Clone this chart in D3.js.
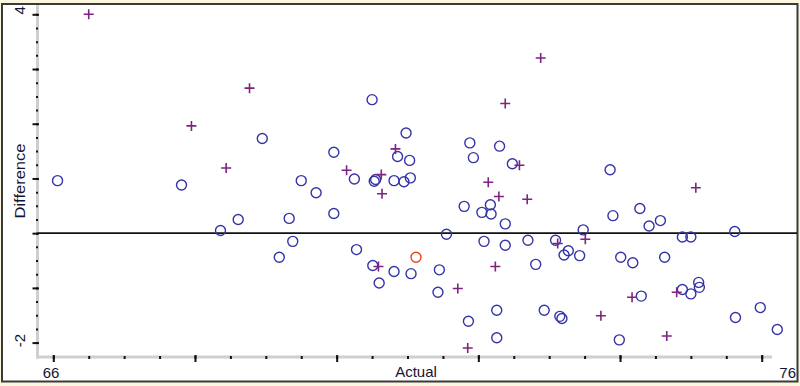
<!DOCTYPE html>
<html>
<head>
<meta charset="utf-8">
<script src="https://cdn.jsdelivr.net/npm/d3@7"></script>
<style>
  html, body { margin: 0; padding: 0; background: #fbf6de; }
  svg { display: block; }
  text { font-family: "Liberation Sans", Arial, sans-serif; font-size: 15px; fill: #141434; }
</style>
</head>
<body>
<svg id="chart" width="800" height="386"></svg>
<script>
// Blue circles: actual value and difference
const circleActual = [66.06, 67.81, 68.36, 68.61, 68.95, 69.19, 69.33, 69.38, 69.50, 69.71,
  69.96, 69.96, 70.28, 70.25, 70.50, 70.51, 70.53, 70.55, 70.60, 70.81,
  70.81, 70.86, 70.95, 70.98, 71.03, 71.04, 71.05, 71.45, 71.43, 71.55,
  71.88, 71.93, 72.30, 72.48, 71.80, 72.05, 72.17, 72.18, 72.38, 72.08,
  72.38, 72.70, 73.09, 72.81, 72.26, 71.86, 72.26, 72.93, 73.15, 73.18,
  73.86, 73.90, 74.28, 74.41, 74.57, 73.48, 73.27, 73.21, 73.43, 74.01,
  74.18, 74.63, 74.88, 75.00, 75.62, 74.30, 74.88, 75.00, 75.11, 75.12,
  73.99, 75.63, 75.98, 76.22];
const circleDiff = [0.96, 0.88, 0.05, 0.25, 1.73, -0.44, 0.27, -0.15, 0.96, 0.74,
  1.48, 0.36, -0.30, 0.99, 2.44, -0.59, 0.95, 0.98, -0.91, -0.70,
  0.96, 1.40, 0.94, 1.83, 1.33, 1.01, -0.74, -0.67, -1.08, -0.02,
  1.65, 1.38, 1.59, 1.27, 0.49, 0.38, 0.52, 0.35, 0.17, -0.15,
  -0.22, -0.13, -0.13, -0.57, -1.41, -1.61, -1.91, -1.41, -1.52, -1.56,
  1.16, 0.32, 0.45, 0.13, 0.23, 0.06, -0.32, -0.40, -0.41, -0.44,
  -0.54, -0.44, -0.07, -0.07, 0.03, -1.15, -1.03, -1.11, -0.90, -0.99,
  -1.95, -1.54, -1.36, -1.76];

// Purple crosses
const plusActual = [66.50, 67.95, 68.77, 68.44, 72.88, 72.38, 70.14, 70.83, 72.58, 70.63,
  70.64, 72.14, 72.29, 72.69, 70.59, 72.24, 71.71, 71.85, 73.12, 73.51,
  75.07, 74.17, 74.80, 73.73, 74.66];
const plusDiff = [4.00, 1.96, 2.65, 1.19, 3.20, 2.37, 1.15, 1.54, 1.24, 1.07,
  0.72, 0.93, 0.67, 0.62, -0.61, -0.61, -1.01, -2.10, -0.19, -0.11,
  0.83, -1.17, -1.08, -1.51, -1.88];

// Highlighted (red) point
const redActual = [71.12];
const redDiff = [-0.44];

// Axes
const xMajorTicks = [66, 68, 70, 72, 74, 76];
const xMinorTicks = d3.range(66, 76.01, 0.5);
const yMajorTicks = [-2, -1, 0, 1, 2, 3, 4];
const yMinorTicks = d3.range(-2, 4.01, 0.25);
const xEndLabels = ["66", "76"];
const yEndLabels = ["-2", "4"];
const xTitle = "Actual";
const yTitle = "Difference";

const axisX = 37.5;   // vertical axis position
const axisY = 357;    // horizontal axis position

const svg = d3.select("#chart");

const x = d3.scaleLinear().domain([66, 76]).range([53.3, 761.7]);
const y = d3.scaleLinear().domain([-2, 4]).range([342.6, 14.3]);

// Frame
svg.append("rect")
  .attr("x", 2).attr("y", 4)
  .attr("width", 795.5).attr("height", 377.5)
  .attr("fill", "#fff")
  .attr("stroke", "#3a3a3a")
  .attr("stroke-width", 2);

// Gray axis lines
svg.append("line")
  .attr("x1", axisX).attr("x2", axisX)
  .attr("y1", 5).attr("y2", axisY + 1.5)
  .attr("stroke", "#cfcfcf").attr("stroke-width", 3);
svg.append("line")
  .attr("x1", axisX - 1.5).attr("x2", 772)
  .attr("y1", axisY).attr("y2", axisY)
  .attr("stroke", "#cfcfcf").attr("stroke-width", 3);

// Zero line
svg.append("line")
  .attr("x1", axisX).attr("x2", 797)
  .attr("y1", y(0)).attr("y2", y(0))
  .attr("stroke", "#111").attr("stroke-width", 1.6);

function styleAxis(g) {
  g.select(".domain").remove();
  g.selectAll(".tick line").attr("stroke", "#111").attr("stroke-width", 2);
}

// x ticks
svg.append("g")
  .attr("transform", `translate(0,${axisY - 1})`)
  .call(d3.axisBottom(x).tickValues(xMinorTicks).tickSize(3).tickFormat(""))
  .call(styleAxis);
svg.append("g")
  .attr("transform", `translate(0,${axisY - 2})`)
  .call(d3.axisBottom(x).tickValues(xMajorTicks).tickSize(7).tickFormat(""))
  .call(styleAxis);

// y ticks
svg.append("g")
  .attr("transform", `translate(${axisX + 0.5},0)`)
  .call(d3.axisLeft(y).tickValues(yMinorTicks).tickSize(2).tickFormat(""))
  .call(styleAxis);
svg.append("g")
  .attr("transform", `translate(${axisX + 1.5},0)`)
  .call(d3.axisLeft(y).tickValues(yMajorTicks).tickSize(6.5).tickFormat(""))
  .call(styleAxis);

// End labels
svg.append("text").attr("x", 51).attr("y", 378)
  .attr("text-anchor", "middle").text(xEndLabels[0]);
svg.append("text").attr("x", 796).attr("y", 378)
  .attr("text-anchor", "end").text(xEndLabels[1]);
svg.append("text").attr("transform", `translate(25,${y(-2) - 2}) rotate(-90)`)
  .attr("text-anchor", "middle").text(yEndLabels[0]);
svg.append("text").attr("transform", `translate(25,${y(4) - 4}) rotate(-90)`)
  .attr("text-anchor", "middle").text(yEndLabels[1]);

// Titles
svg.append("text").attr("x", 416).attr("y", 377)
  .attr("text-anchor", "middle").text(xTitle);
svg.append("text").attr("transform", "translate(25,181) rotate(-90)")
  .attr("text-anchor", "middle")
  .attr("textLength", 75).attr("lengthAdjust", "spacingAndGlyphs")
  .text(yTitle);

// Points
const circles = circleActual.map((a, i) => ({ a, d: circleDiff[i] }));
const pluses = plusActual.map((a, i) => ({ a, d: plusDiff[i] }));
const reds = redActual.map((a, i) => ({ a, d: redDiff[i] }));

svg.append("g").selectAll("circle")
  .data(circles)
  .enter()
  .append("circle")
  .attr("cx", d => x(d.a))
  .attr("cy", d => y(d.d))
  .attr("r", 5)
  .attr("fill", "none")
  .attr("stroke", "#3434a6")
  .attr("stroke-width", 1.4);

svg.append("g").selectAll("path")
  .data(pluses)
  .enter()
  .append("path")
  .attr("transform", d => `translate(${x(d.a)},${y(d.d)})`)
  .attr("d", "M-5,0H5M0,-5V5")
  .attr("stroke", "#7d2380")
  .attr("stroke-width", 1.6);

svg.append("g").selectAll("circle")
  .data(reds)
  .enter()
  .append("circle")
  .attr("cx", d => x(d.a))
  .attr("cy", d => y(d.d))
  .attr("r", 5)
  .attr("fill", "none")
  .attr("stroke", "#e8441a")
  .attr("stroke-width", 1.4);
</script>
</body>
</html>
